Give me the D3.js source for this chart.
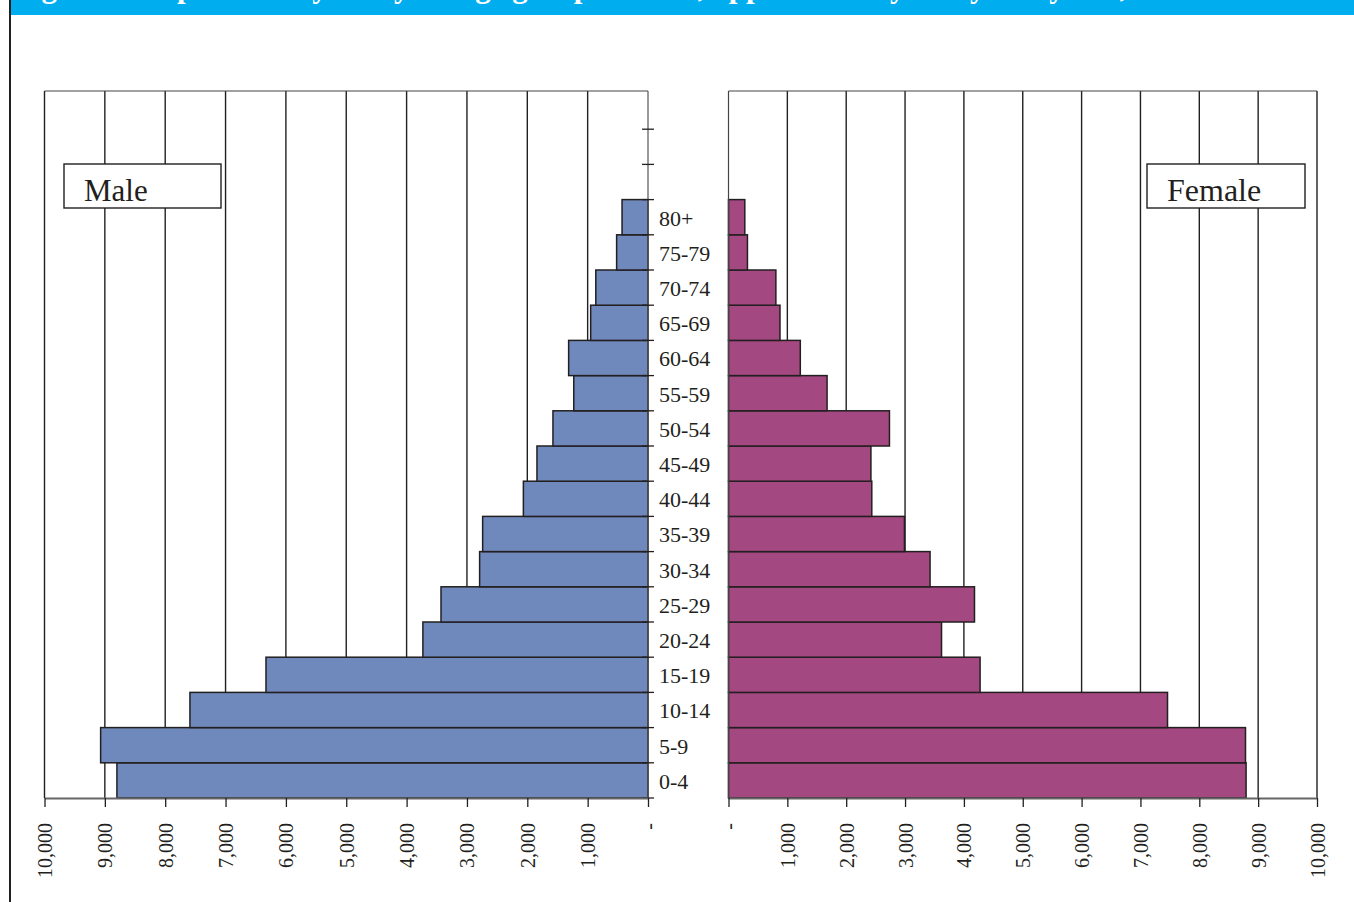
<!DOCTYPE html>
<html>
<head>
<meta charset="utf-8">
<script src="https://cdn.jsdelivr.net/npm/d3@7"></script>
<style>
  html, body { margin: 0; padding: 0; background: #fff; }
  svg { display: block; }
</style>
</head>
<body>
<svg id="chart" width="1354" height="902"></svg>
<script>
// ---- Data (thousands of persons) ----
const ageGroups = ["0-4","5-9","10-14","15-19","20-24","25-29","30-34","35-39","40-44",
                   "45-49","50-54","55-59","60-64","65-69","70-74","75-79","80+"];
const emptySlots = ["_e1","_e2","_e3"];
const maleValues   = [8800, 9070, 7590, 6330, 3730, 3430, 2790, 2740, 2065,
                      1840, 1575, 1230, 1315, 950, 865, 520, 430];
const femaleValues = [8795, 8785, 7460, 4275, 3620, 4180, 3425, 2990, 2435,
                      2420, 2735, 1675, 1220, 875, 805, 322, 277];
const xTickValues = [0,1000,2000,3000,4000,5000,6000,7000,8000,9000,10000];
const seriesNames = ["Male", "Female"];
const titleText = "Figure 2: Population by five-year age group and sex, approximately every five years, 2010";

// ---- Layout ----
const svg = d3.select("#chart");
const ink = "#231F20";
const font = "'Liberation Serif', 'Times New Roman', serif";
const plotTop = 91, plotBottom = 798, bandTop = 94;
const leftPanel = { x0: 44.5, x1: 648 };
const rightPanel = { x0: 728.5, x1: 1317 };

const xL = d3.scaleLinear().domain([0, 10000]).range([leftPanel.x1, leftPanel.x0]);
const xR = d3.scaleLinear().domain([0, 10000]).range([rightPanel.x0, rightPanel.x1]);
const y = d3.scaleBand().domain(ageGroups.concat(emptySlots)).range([plotBottom, bandTop]).padding(0);

const maleData = ageGroups.map((a, i) => ({ age: a, v: maleValues[i] }));
const femaleData = ageGroups.map((a, i) => ({ age: a, v: femaleValues[i] }));

// ---- Page frame & banner ----
svg.append("rect").attr("x", 11).attr("y", 0).attr("width", 1343).attr("height", 15)
  .attr("fill", "#00AEEF");
svg.append("text").attr("x", 14).attr("y", -3)
  .attr("font-family", font).attr("font-weight", "bold").attr("font-size", 31)
  .attr("fill", "#fff").text(titleText);
svg.append("line").attr("x1", 10).attr("x2", 10).attr("y1", 0).attr("y2", 902)
  .attr("stroke", ink).attr("stroke-width", 2);

// ---- Gridlines ----
function grid(scale) {
  svg.append("g").selectAll("line").data(xTickValues.filter(d => d > 0)).join("line")
    .attr("x1", d => scale(d)).attr("x2", d => scale(d))
    .attr("y1", plotTop).attr("y2", plotBottom)
    .attr("stroke", ink).attr("stroke-width", 1.4);
}
grid(xL); grid(xR);

// panel frames
svg.append("line").attr("x1", xL(10000)).attr("x2", xL(0)).attr("y1", plotTop).attr("y2", plotTop)
  .attr("stroke", "#444").attr("stroke-width", 1);
svg.append("line").attr("x1", xR(0)).attr("x2", xR(10000)).attr("y1", plotTop).attr("y2", plotTop)
  .attr("stroke", "#444").attr("stroke-width", 1);

// ---- Series label boxes ----
function labelBox(x, w, txt, size) {
  svg.append("rect").attr("x", x).attr("y", 164).attr("width", w).attr("height", 44)
    .attr("fill", "#fff").attr("stroke", ink).attr("stroke-width", 1.4);
  svg.append("text").attr("x", x + 20).attr("y", 200.5)
    .attr("font-family", font).attr("font-size", size).attr("fill", ink).text(txt);
}
labelBox(64, 157, seriesNames[0], 31);
labelBox(1147, 158, seriesNames[1], 32);

// ---- Bars ----
svg.append("g").selectAll("rect").data(maleData).join("rect")
  .attr("x", d => xL(d.v)).attr("width", d => xL(0) - xL(d.v))
  .attr("y", d => y(d.age)).attr("height", y.bandwidth())
  .attr("fill", "#7089BC").attr("stroke", ink).attr("stroke-width", 1.5);

svg.append("g").selectAll("rect").data(femaleData).join("rect")
  .attr("x", xR(0)).attr("width", d => xR(d.v) - xR(0))
  .attr("y", d => y(d.age)).attr("height", y.bandwidth())
  .attr("fill", "#A44881").attr("stroke", ink).attr("stroke-width", 1.5);

// ---- Vertical axes ----
svg.append("line").attr("x1", xL(0)).attr("x2", xL(0)).attr("y1", plotTop).attr("y2", plotBottom)
  .attr("stroke", "#555").attr("stroke-width", 1.2);
svg.append("line").attr("x1", xR(0)).attr("x2", xR(0)).attr("y1", plotTop).attr("y2", plotBottom)
  .attr("stroke", "#444").attr("stroke-width", 1.2);

// category ticks on the band boundaries of the male axis (not the top one)
const boundaries = y.domain().slice(0, -1).map(d => y(d)).concat([plotBottom]);
svg.append("g").selectAll("line").data(boundaries).join("line")
  .attr("x1", xL(0) - 6).attr("x2", xL(0) + 6)
  .attr("y1", d => d).attr("y2", d => d)
  .attr("stroke", ink).attr("stroke-width", 1.3);

// category labels
svg.append("g").selectAll("text").data(ageGroups).join("text")
  .attr("x", 659).attr("y", d => y(d) + y.bandwidth() / 2)
  .attr("dy", "0.38em")
  .attr("font-family", font).attr("font-size", 22).attr("fill", ink)
  .text(d => d);

// ---- Bottom value axes ----
const fmt = d => d === 0 ? "-" : d3.format(",")(d);
function bottomAxis(scale) {
  const g = svg.append("g").attr("transform", `translate(0,${plotBottom})`)
    .call(d3.axisBottom(scale).tickValues(xTickValues).tickSize(9).tickSizeOuter(0).tickFormat(fmt));
  g.select(".domain").attr("stroke", "#666").attr("stroke-width", 2);
  g.selectAll(".tick line").attr("stroke", ink).attr("stroke-width", 1.3);
  g.selectAll(".tick text")
    .attr("font-family", font).attr("font-size", 20).attr("fill", ink)
    .attr("text-anchor", "end")
    .attr("transform", "translate(0,25) rotate(-90)")
    .attr("x", 0).attr("y", 0).attr("dy", "0.35em");
}
bottomAxis(xL);
bottomAxis(xR);
</script>
</body>
</html>
